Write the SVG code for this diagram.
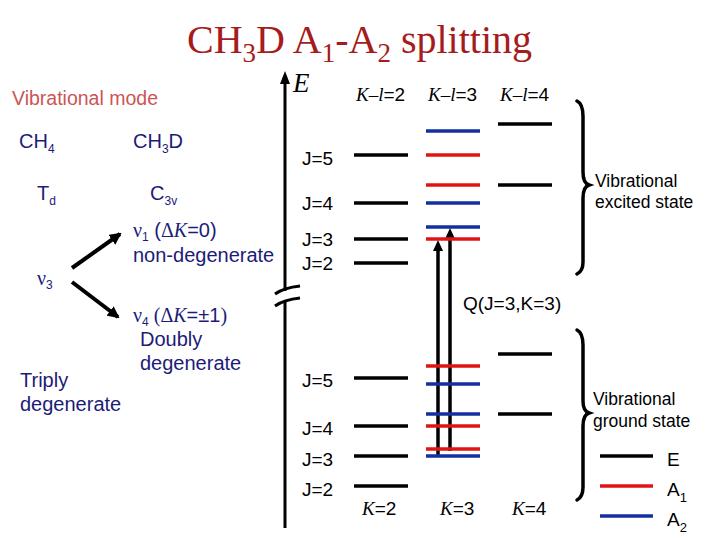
<svg xmlns="http://www.w3.org/2000/svg" width="720" height="540" viewBox="0 0 720 540">
<defs>
<style>
.sans{font-family:"Liberation Sans",Arial,sans-serif}
.serif{font-family:"Liberation Serif","Times New Roman",serif}
.it{font-family:"Liberation Serif","Times New Roman",serif;font-style:italic}
.navy{fill:#1c1c78}
.lbl{font-size:19px;fill:#000}
.lvl{stroke-width:3.5;fill:none}
.E{stroke:#000}
.A1{stroke:#e01414}
.A2{stroke:#1430a0}
.brace{stroke:#000;stroke-width:3.5;fill:none;stroke-linecap:round}
.st{font-size:17.5px;fill:#000}
</style>
<marker id="ah" markerUnits="userSpaceOnUse" markerWidth="12" markerHeight="12" viewBox="0 0 12 12" refX="10" refY="6" orient="auto">
<path d="M0,0 L12,6 L0,12 Z" fill="#000"/>
</marker>
</defs>
<rect width="720" height="540" fill="#fff"/>

<g id="title">
<text x="187" y="53" class="serif" font-size="40" fill="#a51c1c">CH<tspan font-size="27" dy="9">3</tspan><tspan dy="-9">D A</tspan><tspan font-size="27" dy="9">1</tspan><tspan dy="-9">-A</tspan><tspan font-size="27" dy="9">2</tspan><tspan dy="-9"> splitting</tspan></text>
</g>

<g id="left-panel" class="sans navy" font-size="20">
<text x="12" y="105" fill="#cc5555" font-size="19.5">Vibrational mode</text>
<text x="19" y="148">CH<tspan font-size="12" dy="5">4</tspan></text>
<text x="133" y="148">CH<tspan font-size="12" dy="5">3</tspan><tspan dy="-5">D</tspan></text>
<text x="37" y="200">T<tspan font-size="12" dy="5">d</tspan></text>
<text x="150" y="200">C<tspan font-size="12" dy="5">3v</tspan></text>
<text x="133" y="237"><tspan class="serif">ν</tspan><tspan font-size="12" dy="4">1</tspan><tspan dy="-4"> (</tspan><tspan class="serif">Δ</tspan><tspan class="it">K</tspan>=0)</text>
<text x="133" y="262">non-degenerate</text>
<text x="37" y="285"><tspan class="serif">ν</tspan><tspan font-size="12" dy="4">3</tspan></text>
<text x="133" y="322"><tspan class="serif">ν</tspan><tspan font-size="12" dy="4">4</tspan><tspan dy="-4" class="serif"> (Δ</tspan><tspan class="it">K</tspan>=±1<tspan class="serif">)</tspan></text>
<text x="140" y="346">Doubly</text>
<text x="140" y="370">degenerate</text>
<text x="20" y="387">Triply</text>
<text x="20" y="411">degenerate</text>
</g>

<g id="connectors" stroke="#000" fill="none">
<line x1="72" y1="268" x2="120" y2="234" stroke-width="4" marker-end="url(#ah)"/>
<line x1="72" y1="282" x2="118" y2="317" stroke-width="4" marker-end="url(#ah)"/>
<line x1="285" y1="291" x2="285" y2="82" stroke-width="3"/>
<polygon points="285,71 280,84 290,84" fill="#000" stroke="none"/>
<path d="M275,294 C282,289 290,287 300,286" stroke-width="3"/>
<path d="M275,306 C282,301 290,299 300,298" stroke-width="3"/>
<line x1="285" y1="301" x2="285" y2="528" stroke-width="3"/>
<line x1="438" y1="456" x2="438" y2="248" stroke-width="3.5"/>
<polygon points="438,240 433,251 443,251" fill="#000" stroke="none"/>
<line x1="450" y1="451" x2="450" y2="236" stroke-width="3.5"/>
<polygon points="450,228 445,239 455,239" fill="#000" stroke="none"/>
</g>

<g id="axis-labels">
<text x="293" y="92" class="it" font-size="27">E</text>
<text x="356" y="101" class="lbl"><tspan class="it">K–l</tspan><tspan class="sans">=2</tspan></text>
<text x="428" y="101" class="lbl"><tspan class="it">K–l</tspan><tspan class="sans">=3</tspan></text>
<text x="500" y="101" class="lbl"><tspan class="it">K–l</tspan><tspan class="sans">=4</tspan></text>
<text x="362" y="515" class="lbl"><tspan class="it">K</tspan><tspan class="sans">=2</tspan></text>
<text x="440" y="515" class="lbl"><tspan class="it">K</tspan><tspan class="sans">=3</tspan></text>
<text x="512" y="515" class="lbl"><tspan class="it">K</tspan><tspan class="sans">=4</tspan></text>
<text x="463" y="310" class="sans lbl">Q(J=3,K=3)</text>
</g>

<g id="excited-state">
<g class="sans lbl">
<text x="302" y="165">J=5</text>
<text x="302" y="210">J=4</text>
<text x="302" y="246">J=3</text>
<text x="302" y="270">J=2</text>
</g>
<line class="lvl E" x1="498" y1="124" x2="552" y2="124"/>
<line class="lvl A2" x1="426" y1="131" x2="480" y2="131"/>
<line class="lvl E" x1="354" y1="155" x2="408" y2="155"/>
<line class="lvl A1" x1="426" y1="155" x2="480" y2="155"/>
<line class="lvl A1" x1="426" y1="185" x2="480" y2="185"/>
<line class="lvl E" x1="498" y1="185" x2="552" y2="185"/>
<line class="lvl E" x1="354" y1="203" x2="408" y2="203"/>
<line class="lvl A2" x1="426" y1="203" x2="480" y2="203"/>
<line class="lvl A2" x1="426" y1="227" x2="480" y2="227"/>
<line class="lvl E" x1="354" y1="239" x2="408" y2="239"/>
<line class="lvl A1" x1="426" y1="239" x2="480" y2="239"/>
<line class="lvl E" x1="354" y1="263" x2="408" y2="263"/>
<path class="brace" d="M577,101 Q583,104 583,116 L583,172 Q583,183 589,185 Q583,187 583,198 L583,262 Q583,271 577,274"/>
<text x="595" y="187" class="sans st">Vibrational</text>
<text x="595" y="208" class="sans st">excited state</text>
</g>

<g id="ground-state">
<g class="sans lbl">
<text x="302" y="387">J=5</text>
<text x="302" y="435">J=4</text>
<text x="302" y="466">J=3</text>
<text x="302" y="496">J=2</text>
</g>
<line class="lvl E" x1="498" y1="354" x2="552" y2="354"/>
<line class="lvl A1" x1="426" y1="366" x2="480" y2="366"/>
<line class="lvl E" x1="354" y1="378" x2="408" y2="378"/>
<line class="lvl A2" x1="426" y1="384" x2="480" y2="384"/>
<line class="lvl A2" x1="426" y1="414" x2="480" y2="414"/>
<line class="lvl E" x1="498" y1="414" x2="552" y2="414"/>
<line class="lvl E" x1="354" y1="426" x2="408" y2="426"/>
<line class="lvl A1" x1="426" y1="426" x2="480" y2="426"/>
<line class="lvl A1" x1="426" y1="449" x2="480" y2="449"/>
<line class="lvl E" x1="354" y1="456" x2="408" y2="456"/>
<line class="lvl A2" x1="426" y1="456" x2="480" y2="456"/>
<line class="lvl E" x1="354" y1="486" x2="408" y2="486"/>
<path class="brace" d="M577,330 Q583,333 583,345 L583,401 Q583,411 589,413 Q583,415 583,426 L583,487 Q583,497 577,500"/>
<text x="593" y="405" class="sans st">Vibrational</text>
<text x="593" y="427" class="sans st">ground state</text>
</g>

<g id="legend">
<line class="lvl E" x1="600" y1="456" x2="653" y2="456"/>
<line class="lvl A1" x1="600" y1="486" x2="653" y2="486"/>
<line class="lvl A2" x1="600" y1="516" x2="653" y2="516"/>
<text x="667" y="466" class="sans lbl">E</text>
<text x="667" y="496" class="sans lbl">A<tspan font-size="13" dy="6">1</tspan></text>
<text x="667" y="526" class="sans lbl">A<tspan font-size="13" dy="6">2</tspan></text>
</g>
</svg>
